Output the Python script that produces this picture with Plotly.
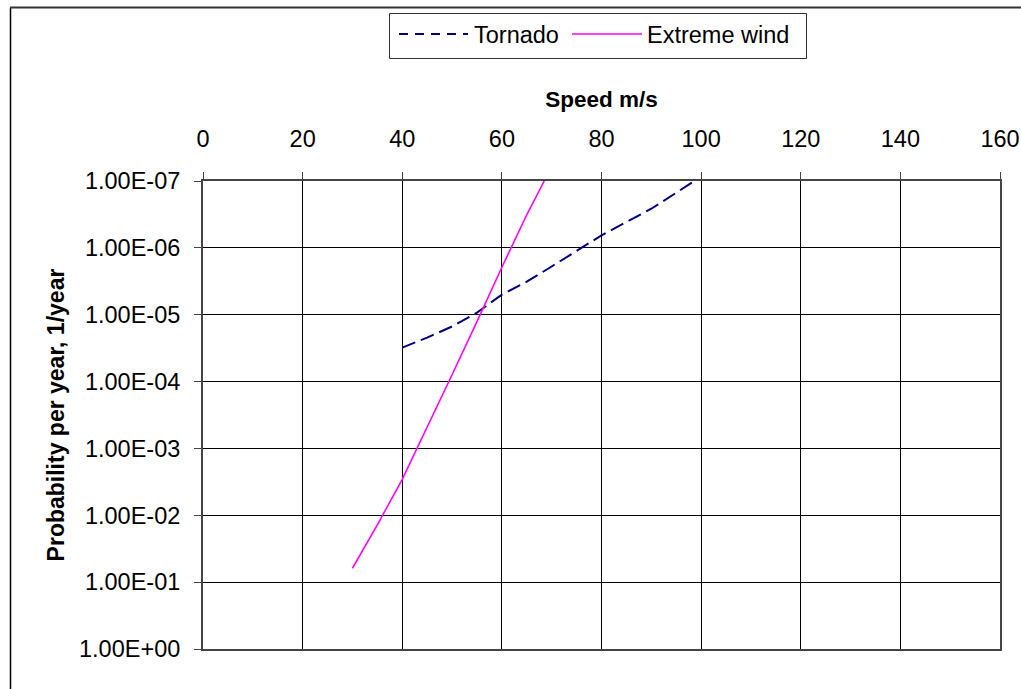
import plotly.graph_objects as go

# Wind speed (m/s) vs. annual exceedance probability
tornado_speed = [40, 45, 50, 55, 60, 65, 70, 75, 80, 85, 90, 95, 98.6]
tornado_prob = [3.1e-5, 2.2e-5, 1.5e-5, 9.3e-6, 5.0e-6, 3.2e-6, 1.9e-6,
                1.12e-6, 6.5e-7, 4.1e-7, 2.6e-7, 1.5e-7, 1.0e-7]

wind_speed = [30, 35, 40, 45, 50, 55, 60, 65, 68.5]
wind_prob = [6.2e-2, 1.39e-2, 2.9e-3, 4.9e-4, 7.9e-5, 1.27e-5, 1.95e-6,
             3.2e-7, 1.0e-7]

x_ticks = [0, 20, 40, 60, 80, 100, 120, 140, 160]
y_tickvals = [1e-7, 1e-6, 1e-5, 1e-4, 1e-3, 1e-2, 1e-1, 1e0]
y_ticktext = ["1.00E-07", "1.00E-06", "1.00E-05", "1.00E-04",
              "1.00E-03", "1.00E-02", "1.00E-01", "1.00E+00"]

FONT = "Liberation Sans, Arial, sans-serif"
TORNADO_LINE = dict(color="#000080", width=2, dash="14px,6px")
WIND_LINE = dict(color="#FF00FF", width=1.6)

fig = go.Figure()
fig.add_trace(go.Scatter(
    x=tornado_speed, y=tornado_prob, mode="lines", name="Tornado",
    line=TORNADO_LINE, showlegend=False,
))
fig.add_trace(go.Scatter(
    x=wind_speed, y=wind_prob, mode="lines", name="Extreme wind",
    line=WIND_LINE, showlegend=False,
))

W, H = 1021, 689
ml, mr, mt, mb = 203, 21, 181, 40
pw, ph = W - ml - mr, H - mt - mb


def px_x(px):
    return (px - ml) / pw


def px_y(py):
    return (H - mb - py) / ph


# Boxed legend above the axis title
legend_items = [
    ("Tornado", dict(color="#000080", width=2, dash="9px,7px"), 399, 468, 475),
    ("Extreme wind", dict(color="#FF00FF", width=1.6), 572, 642, 648),
]
legend_y = 34

shapes = [
    # outer chart frame (left and top edges)
    dict(type="line", xref="paper", yref="paper",
         x0=px_x(10.5), x1=px_x(10.5), y0=px_y(7.5), y1=px_y(700),
         line=dict(color="black", width=1.5)),
    dict(type="line", xref="paper", yref="paper",
         x0=px_x(10), x1=px_x(1030), y0=px_y(7.5), y1=px_y(7.5),
         line=dict(color="#333333", width=2)),
    # legend box
    dict(type="rect", xref="paper", yref="paper",
         x0=px_x(389.5), x1=px_x(806.5), y0=px_y(13.5), y1=px_y(58.5),
         line=dict(color="#333333", width=1), fillcolor="white"),
]
annotations = []
for label, style, lx0, lx1, tx in legend_items:
    shapes.append(dict(type="line", xref="paper", yref="paper",
                       x0=px_x(lx0), x1=px_x(lx1),
                       y0=px_y(legend_y), y1=px_y(legend_y), line=style))
    annotations.append(dict(text=label, xref="paper", yref="paper",
                            x=px_x(tx - 2), y=px_y(legend_y + 1),
                            xanchor="left", yanchor="middle",
                            showarrow=False, borderpad=0,
                            font=dict(family=FONT, size=23.5, color="black")))

fig.update_layout(
    width=W, height=H,
    margin=dict(l=ml, r=mr, t=mt, b=mb),
    paper_bgcolor="white", plot_bgcolor="white",
    font=dict(family=FONT, size=23.5, color="black"),
    showlegend=False,
    xaxis=dict(
        side="top", range=[0, 160], tickvals=x_ticks, automargin=False,
        showgrid=True, gridcolor="black", gridwidth=1,
        showline=True, linecolor="#444444", linewidth=2, mirror=True,
        ticks="outside", ticklen=7, tickcolor="#444444",
        ticklabelstandoff=16,
        zeroline=False,
        title=dict(text="<b>Speed m/s</b>", font=dict(size=22.5), standoff=12),
    ),
    yaxis=dict(
        type="log", range=[0, -7], automargin=False,
        tickvals=y_tickvals, ticktext=y_ticktext,
        showgrid=True, gridcolor="black", gridwidth=1,
        showline=True, linecolor="#444444", linewidth=2, mirror=True,
        ticks="outside", ticklen=7, tickcolor="#444444",
        ticklabelstandoff=9,
        zeroline=False,
        title=dict(text="<b>Probability per year, 1/year</b>",
                   font=dict(size=23), standoff=8),
    ),
    shapes=shapes,
    annotations=annotations,
)

fig.write_html("out.html")
